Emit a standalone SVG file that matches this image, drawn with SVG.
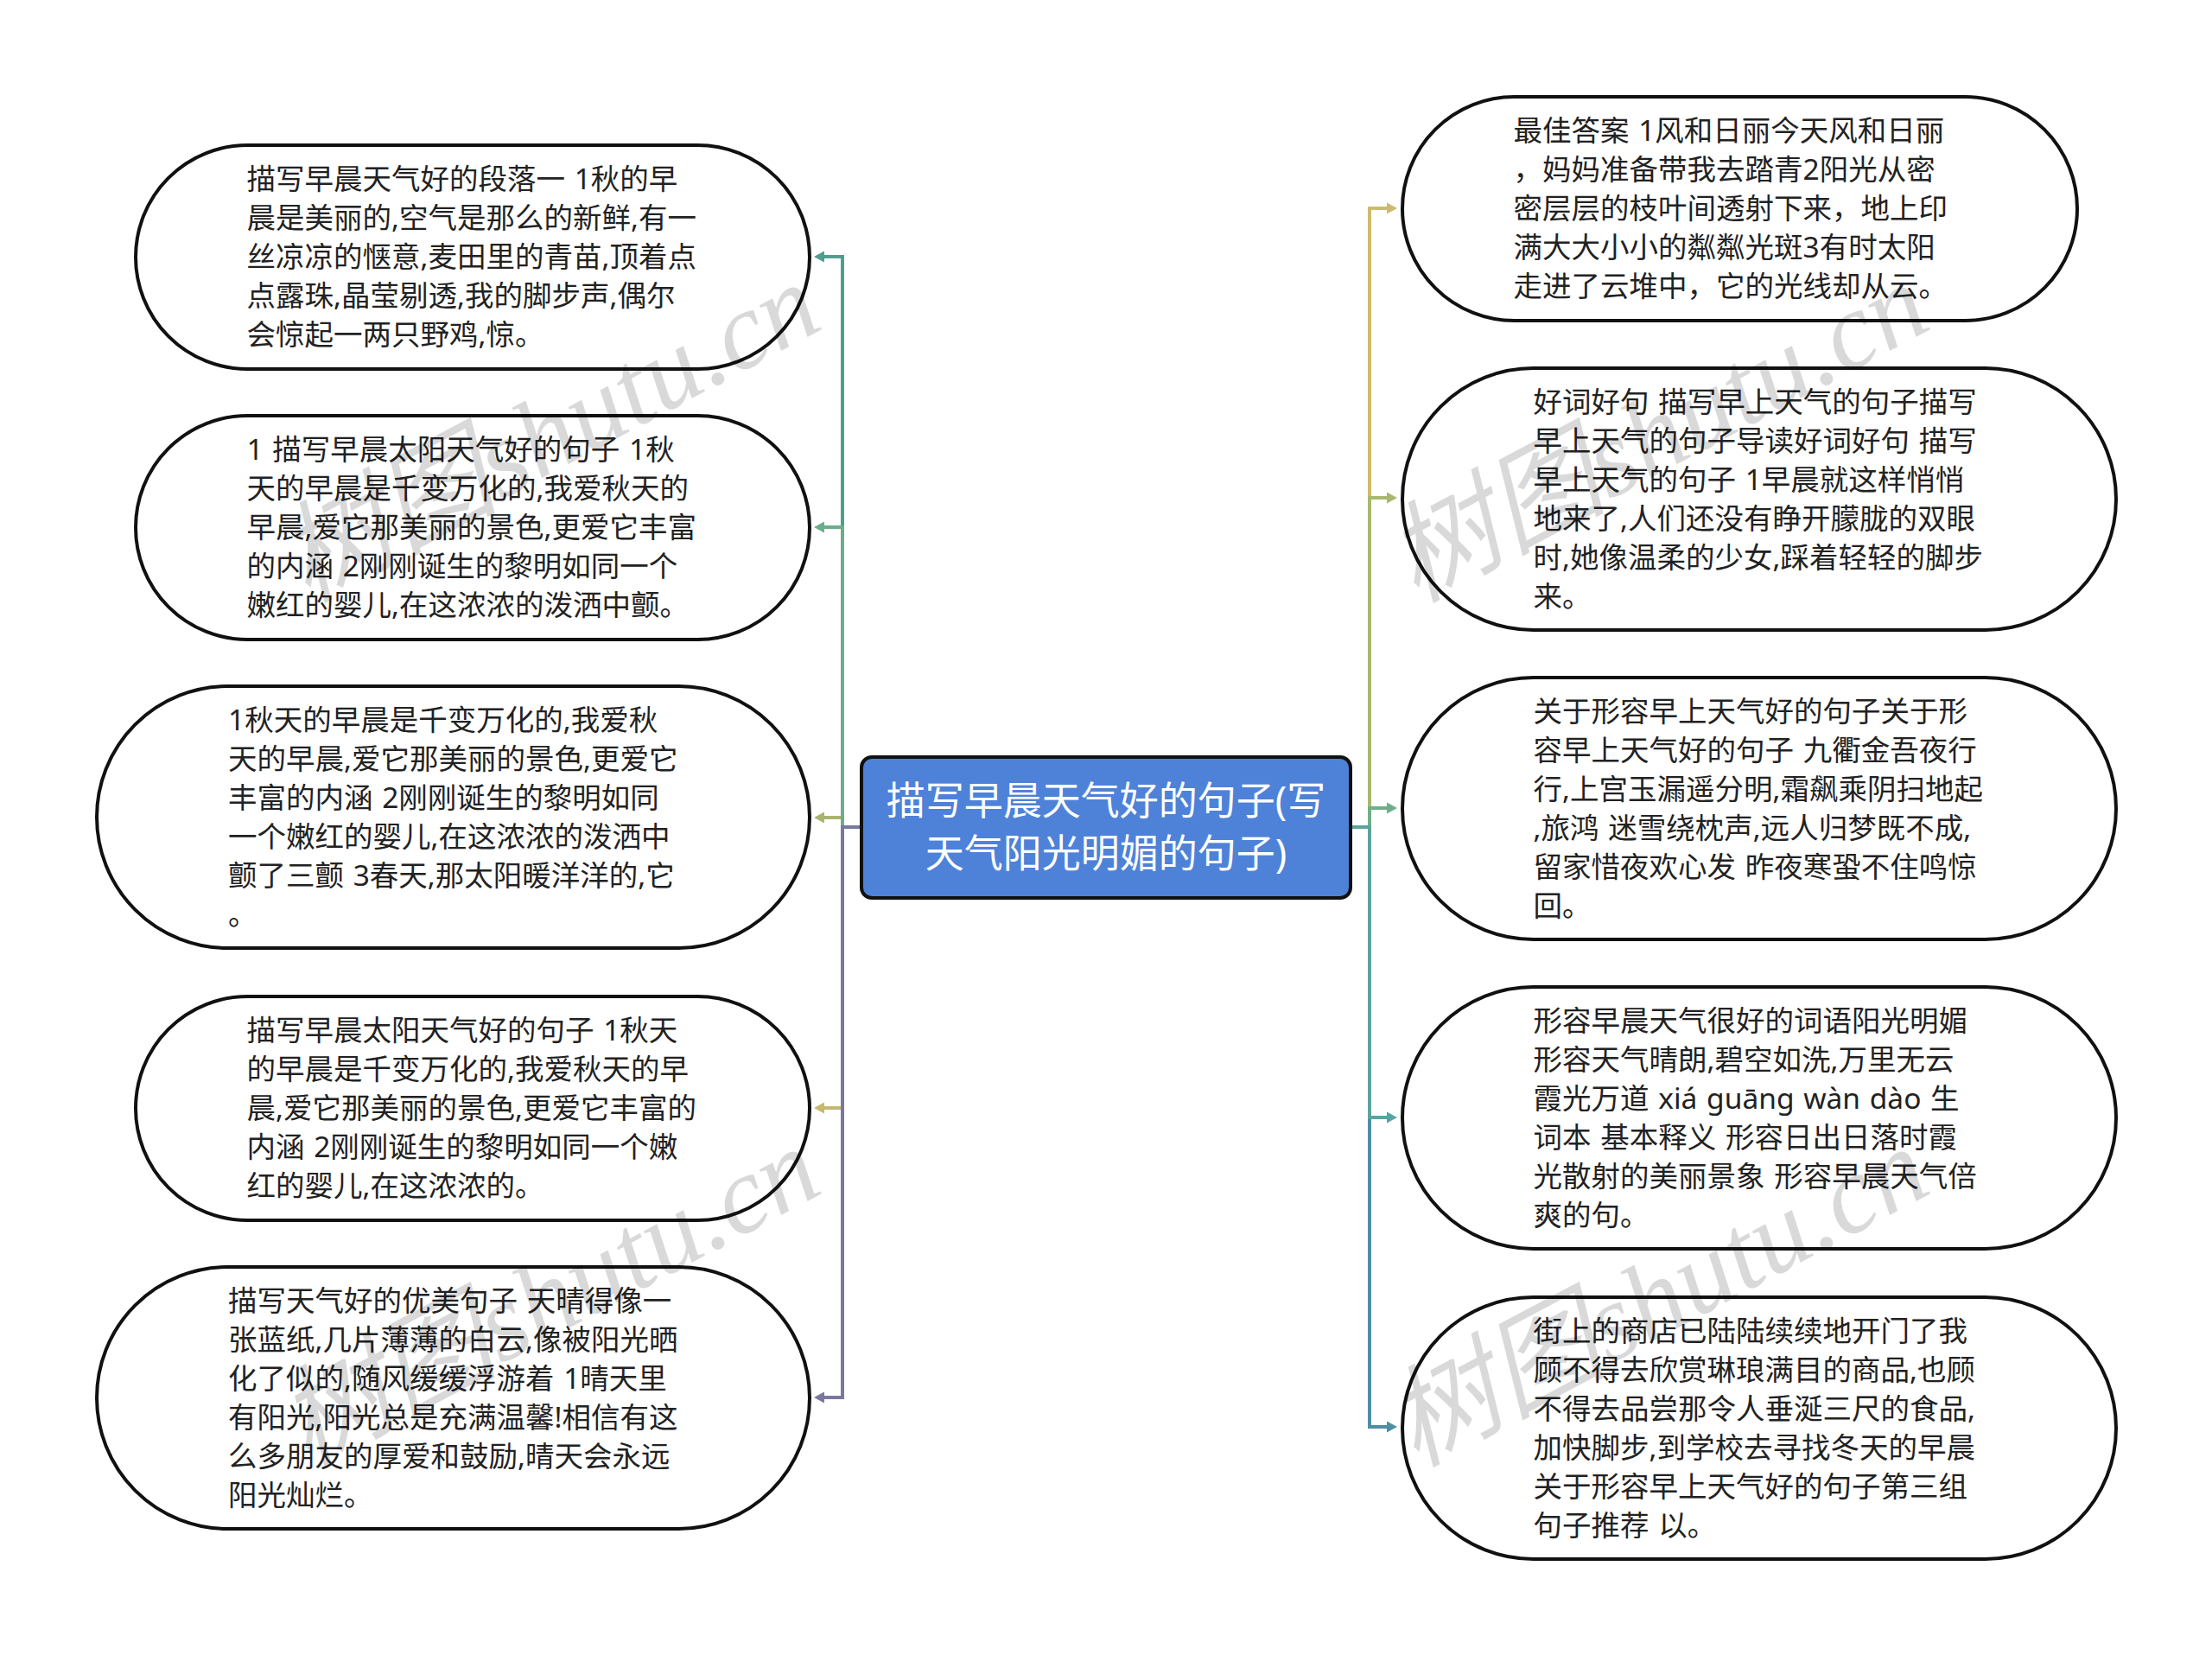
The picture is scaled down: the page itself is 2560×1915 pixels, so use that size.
<svg xmlns="http://www.w3.org/2000/svg" width="2560" height="1915" viewBox="0 0 2560 1915">
<style>
.pill{fill:#fff;stroke:#111;stroke-width:4}
.t{font-family:"Noto Sans","Noto Sans CJK SC",sans-serif;font-size:33.5px;fill:#222;word-spacing:2px}
.c{font-family:"Noto Sans","Noto Sans CJK SC",sans-serif;font-size:45px;fill:#fff;text-anchor:middle}
.w{font-family:"Liberation Serif","Noto Sans CJK SC",serif;font-style:italic;font-size:127px;fill:#000;fill-opacity:.15}
.l{fill:none;stroke-width:4}
</style>
<defs>
<marker id="aL1" markerUnits="userSpaceOnUse" markerWidth="12" markerHeight="14" refX="1" refY="7" orient="auto"><path d="M0,0.5L12,7L0,13.5Z" fill="#4F9E90"/></marker>
<marker id="aL2" markerUnits="userSpaceOnUse" markerWidth="12" markerHeight="14" refX="1" refY="7" orient="auto"><path d="M0,0.5L12,7L0,13.5Z" fill="#6CAE8A"/></marker>
<marker id="aL3" markerUnits="userSpaceOnUse" markerWidth="12" markerHeight="14" refX="1" refY="7" orient="auto"><path d="M0,0.5L12,7L0,13.5Z" fill="#A9B46E"/></marker>
<marker id="aL4" markerUnits="userSpaceOnUse" markerWidth="12" markerHeight="14" refX="1" refY="7" orient="auto"><path d="M0,0.5L12,7L0,13.5Z" fill="#C4B96F"/></marker>
<marker id="aL5" markerUnits="userSpaceOnUse" markerWidth="12" markerHeight="14" refX="1" refY="7" orient="auto"><path d="M0,0.5L12,7L0,13.5Z" fill="#7878A0"/></marker>
<marker id="aR1" markerUnits="userSpaceOnUse" markerWidth="12" markerHeight="14" refX="1" refY="7" orient="auto"><path d="M0,0.5L12,7L0,13.5Z" fill="#CDBB6C"/></marker>
<marker id="aR2" markerUnits="userSpaceOnUse" markerWidth="12" markerHeight="14" refX="1" refY="7" orient="auto"><path d="M0,0.5L12,7L0,13.5Z" fill="#A8B86E"/></marker>
<marker id="aR3" markerUnits="userSpaceOnUse" markerWidth="12" markerHeight="14" refX="1" refY="7" orient="auto"><path d="M0,0.5L12,7L0,13.5Z" fill="#6FAE88"/></marker>
<marker id="aR4" markerUnits="userSpaceOnUse" markerWidth="12" markerHeight="14" refX="1" refY="7" orient="auto"><path d="M0,0.5L12,7L0,13.5Z" fill="#5BA3A0"/></marker>
<marker id="aR5" markerUnits="userSpaceOnUse" markerWidth="12" markerHeight="14" refX="1" refY="7" orient="auto"><path d="M0,0.5L12,7L0,13.5Z" fill="#4E8FA3"/></marker>
</defs>
<rect width="2560" height="1915" fill="#fff"/>
<g id="connectors">
<path class="l" stroke="#A9B46E" marker-end="url(#aL3)" d="M995,957H975V946H953"/>
<path class="l" stroke="#C4B96F" marker-end="url(#aL4)" d="M995,957H975V1282H953"/>
<path class="l" stroke="#4F9E90" marker-end="url(#aL1)" d="M995,957H975V297H953"/>
<path class="l" stroke="#6CAE8A" marker-end="url(#aL2)" d="M995,957H975V610H953"/>
<path class="l" stroke="#7878A0" marker-end="url(#aL5)" d="M995,957H975V1617H953"/>
<path class="l" stroke="#CDBB6C" marker-end="url(#aR1)" d="M1565,957H1585V241H1606"/>
<path class="l" stroke="#A8B86E" marker-end="url(#aR2)" d="M1565,957H1585V576H1606"/>
<path class="l" stroke="#6FAE88" marker-end="url(#aR3)" d="M1565,957H1585V935H1606"/>
<path class="l" stroke="#4E8FA3" marker-end="url(#aR5)" d="M1565,957H1585V1651H1606"/>
<path class="l" stroke="#5BA3A0" marker-end="url(#aR4)" d="M1565,957H1585V1293H1606"/>
</g>
<g id="root"><rect x="997" y="876" width="566" height="163" rx="12" fill="#4E82D8" stroke="#111" stroke-width="4"/><text class="c" x="1280" y="943">描写早晨天气好的句子(写</text><text class="c" x="1280" y="1004">天气阳光明媚的句子)</text></g>
<g id="L1"><rect class="pill" x="157" y="168" width="780" height="259" rx="129.5"/><text class="t"><tspan x="285.5" y="219">描写早晨天气好的段落一 1秋的早</tspan><tspan x="285.5" y="264">晨是美丽的,空气是那么的新鲜,有一</tspan><tspan x="285.5" y="309">丝凉凉的惬意,麦田里的青苗,顶着点</tspan><tspan x="285.5" y="354">点露珠,晶莹剔透,我的脚步声,偶尔</tspan><tspan x="285.5" y="399">会惊起一两只野鸡,惊。</tspan></text></g>
<g id="L2"><rect class="pill" x="157" y="481" width="780" height="259" rx="129.5"/><text class="t"><tspan x="285.5" y="532">1 描写早晨太阳天气好的句子 1秋</tspan><tspan x="285.5" y="577">天的早晨是千变万化的,我爱秋天的</tspan><tspan x="285.5" y="622">早晨,爱它那美丽的景色,更爱它丰富</tspan><tspan x="285.5" y="667">的内涵 2刚刚诞生的黎明如同一个</tspan><tspan x="285.5" y="712">嫩红的婴儿,在这浓浓的泼洒中颤。</tspan></text></g>
<g id="L3"><rect class="pill" x="112" y="794" width="825" height="303" rx="151.5"/><text class="t"><tspan x="264" y="845">1秋天的早晨是千变万化的,我爱秋</tspan><tspan x="264" y="890">天的早晨,爱它那美丽的景色,更爱它</tspan><tspan x="264" y="935">丰富的内涵 2刚刚诞生的黎明如同</tspan><tspan x="264" y="980">一个嫩红的婴儿,在这浓浓的泼洒中</tspan><tspan x="264" y="1025">颤了三颤 3春天,那太阳暖洋洋的,它</tspan><tspan x="264" y="1070">。</tspan></text></g>
<g id="L4"><rect class="pill" x="157" y="1153" width="780" height="259" rx="129.5"/><text class="t"><tspan x="285.5" y="1204">描写早晨太阳天气好的句子 1秋天</tspan><tspan x="285.5" y="1249">的早晨是千变万化的,我爱秋天的早</tspan><tspan x="285.5" y="1294">晨,爱它那美丽的景色,更爱它丰富的</tspan><tspan x="285.5" y="1339">内涵 2刚刚诞生的黎明如同一个嫩</tspan><tspan x="285.5" y="1384">红的婴儿,在这浓浓的。</tspan></text></g>
<g id="L5"><rect class="pill" x="112" y="1466" width="825" height="303" rx="151.5"/><text class="t"><tspan x="264" y="1517">描写天气好的优美句子 天晴得像一</tspan><tspan x="264" y="1562">张蓝纸,几片薄薄的白云,像被阳光晒</tspan><tspan x="264" y="1607">化了似的,随风缓缓浮游着 1晴天里</tspan><tspan x="264" y="1652">有阳光,阳光总是充满温馨!相信有这</tspan><tspan x="264" y="1697">么多朋友的厚爱和鼓励,晴天会永远</tspan><tspan x="264" y="1742">阳光灿烂。</tspan></text></g>
<g id="R1"><rect class="pill" x="1623" y="112" width="781" height="259" rx="129.5"/><text class="t"><tspan x="1751.5" y="163">最佳答案 1风和日丽今天风和日丽</tspan><tspan x="1751.5" y="208">，妈妈准备带我去踏青2阳光从密</tspan><tspan x="1751.5" y="253">密层层的枝叶间透射下来，地上印</tspan><tspan x="1751.5" y="298">满大大小小的粼粼光斑3有时太阳</tspan><tspan x="1751.5" y="343">走进了云堆中，它的光线却从云。</tspan></text></g>
<g id="R2"><rect class="pill" x="1623" y="426" width="826" height="303" rx="151.5"/><text class="t"><tspan x="1774.5" y="477">好词好句 描写早上天气的句子描写</tspan><tspan x="1774.5" y="522">早上天气的句子导读好词好句 描写</tspan><tspan x="1774.5" y="567">早上天气的句子 1早晨就这样悄悄</tspan><tspan x="1774.5" y="612">地来了,人们还没有睁开朦胧的双眼</tspan><tspan x="1774.5" y="657">时,她像温柔的少女,踩着轻轻的脚步</tspan><tspan x="1774.5" y="702">来。</tspan></text></g>
<g id="R3"><rect class="pill" x="1623" y="784" width="826" height="303" rx="151.5"/><text class="t"><tspan x="1774.5" y="835">关于形容早上天气好的句子关于形</tspan><tspan x="1774.5" y="880">容早上天气好的句子 九衢金吾夜行</tspan><tspan x="1774.5" y="925">行,上宫玉漏遥分明,霜飙乘阴扫地起</tspan><tspan x="1774.5" y="970">,旅鸿 迷雪绕枕声,远人归梦既不成,</tspan><tspan x="1774.5" y="1015">留家惜夜欢心发 昨夜寒蛩不住鸣惊</tspan><tspan x="1774.5" y="1060">回。</tspan></text></g>
<g id="R4"><rect class="pill" x="1623" y="1142" width="826" height="303" rx="151.5"/><text class="t"><tspan x="1774.5" y="1193">形容早晨天气很好的词语阳光明媚</tspan><tspan x="1774.5" y="1238">形容天气晴朗,碧空如洗,万里无云</tspan><tspan x="1774.5" y="1283">霞光万道 xiá guāng wàn dào 生</tspan><tspan x="1774.5" y="1328">词本 基本释义 形容日出日落时霞</tspan><tspan x="1774.5" y="1373">光散射的美丽景象 形容早晨天气倍</tspan><tspan x="1774.5" y="1418">爽的句。</tspan></text></g>
<g id="R5"><rect class="pill" x="1623" y="1501" width="826" height="303" rx="151.5"/><text class="t"><tspan x="1774.5" y="1552">街上的商店已陆陆续续地开门了我</tspan><tspan x="1774.5" y="1597">顾不得去欣赏琳琅满目的商品,也顾</tspan><tspan x="1774.5" y="1642">不得去品尝那令人垂涎三尺的食品,</tspan><tspan x="1774.5" y="1687">加快脚步,到学校去寻找冬天的早晨</tspan><tspan x="1774.5" y="1732">关于形容早上天气好的句子第三组</tspan><tspan x="1774.5" y="1777">句子推荐 以。</tspan></text></g>
<g id="watermark">
<text class="w" transform="translate(355,698) rotate(-28)">树图shutu.cn</text>
<text class="w" transform="translate(1638,698) rotate(-28)">树图shutu.cn</text>
<text class="w" transform="translate(355,1698) rotate(-28)">树图shutu.cn</text>
<text class="w" transform="translate(1638,1698) rotate(-28)">树图shutu.cn</text>
</g>
</svg>
